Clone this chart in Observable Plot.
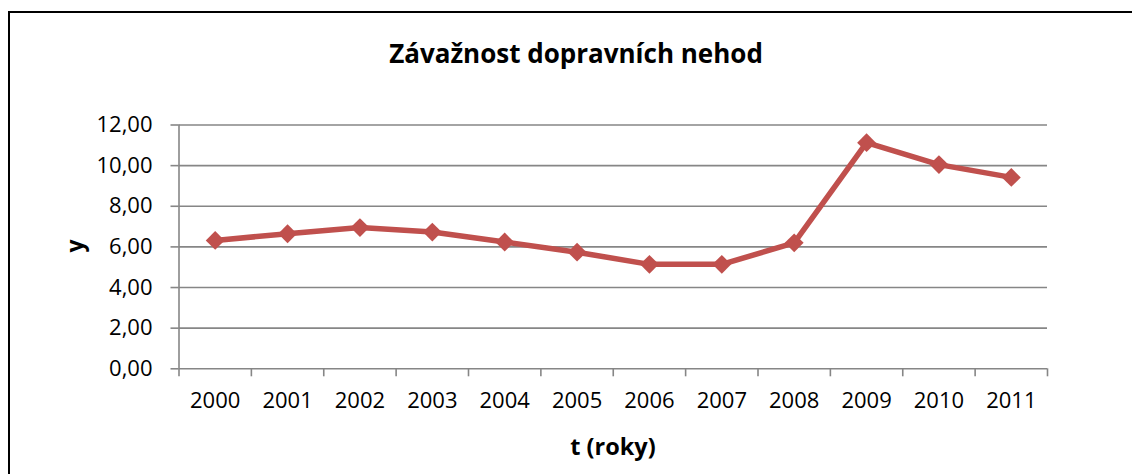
<!DOCTYPE html>
<html>
<head>
<meta charset="utf-8">
<script src="https://cdn.jsdelivr.net/npm/d3@7"></script>
<script src="https://cdn.jsdelivr.net/npm/@observablehq/plot@0.6"></script>
<style>
  html, body { margin: 0; padding: 0; background: #fff; overflow: hidden; }
  #wrap { position: relative; width: 1132px; height: 474px; overflow: hidden; font-family: "Open Sans", sans-serif; }
  #frame { position: absolute; left: 8px; top: 11px; width: 1300px; height: 700px; border-left: 2px solid #000; border-top: 2px solid #000; }
  #chart { position: absolute; left: 0; top: 0; }
  .lbl { position: absolute; font-weight: bold; line-height: 1; white-space: nowrap; color: #000; transform: translate(-50%, -50%); }
</style>
</head>
<body>
<div id="wrap">
  <div id="frame"></div>
  <div id="chart"></div>
  <div class="lbl" id="title" style="left:576px; top:53px; font-size:26px;">Závažnost dopravních nehod</div>
  <div class="lbl" id="ylab" style="left:74px; top:246px; font-size:23px; transform: translate(-50%, -50%) rotate(-90deg);">y</div>
  <div class="lbl" id="xlab" style="left:613px; top:447px; font-size:23.5px;">t (roky)</div>
</div>
<script>
const years = ["2000", "2001", "2002", "2003", "2004", "2005", "2006", "2007", "2008", "2009", "2010", "2011"];
const values = [6.32, 6.65, 6.95, 6.73, 6.24, 5.74, 5.14, 5.14, 6.20, 11.13, 10.05, 9.42];
const yTicks = [0, 2, 4, 6, 8, 10, 12];

const data = years.map((t, i) => ({ i, year: t, v: values[i] }));
const centers = years.map((_, i) => i);
const boundaries = d3.range(years.length + 1).map(i => i - 0.5);

const grid = "#868686";

const chart = Plot.plot({
  width: 1132,
  height: 474,
  marginLeft: 178.5,
  marginRight: 85,
  marginTop: 124.5,
  marginBottom: 105.7,
  style: { fontFamily: "Open Sans, sans-serif", fontSize: "22px", color: "#000", background: "transparent" },
  x: { type: "linear", domain: [-0.5, years.length - 0.5] },
  y: { domain: [0, 12] },
  marks: [
    Plot.gridY(yTicks, { stroke: grid, strokeOpacity: 1, strokeWidth: 1.6 }),
    Plot.axisY(yTicks, {
      tickSize: 8, tickPadding: 18.5, stroke: grid, strokeWidth: 1.6,
      tickFormat: d => d.toFixed(2).replace(".", ","), label: null, fill: "#000"
    }),
    Plot.ruleX([-0.5], { y1: 0, y2: 12, stroke: grid, strokeWidth: 1.6 }),
    Plot.axisX(boundaries, { tickSize: 8, stroke: grid, strokeWidth: 1.6, tickFormat: () => "", label: null }),
    Plot.axisX(centers, { tickSize: 0, tickPadding: 24, tickFormat: i => years[i], label: null, fill: "#000" }),
    Plot.line(data, { x: "i", y: "v", stroke: "#C0504D", strokeWidth: 5.5, strokeLinejoin: "round" }),
    Plot.dot(data, { x: "i", y: "v", symbol: "diamond2", r: 8.5, fill: "#C0504D", stroke: "none" })
  ]
});
document.getElementById("chart").appendChild(chart);
</script>
</body>
</html>
